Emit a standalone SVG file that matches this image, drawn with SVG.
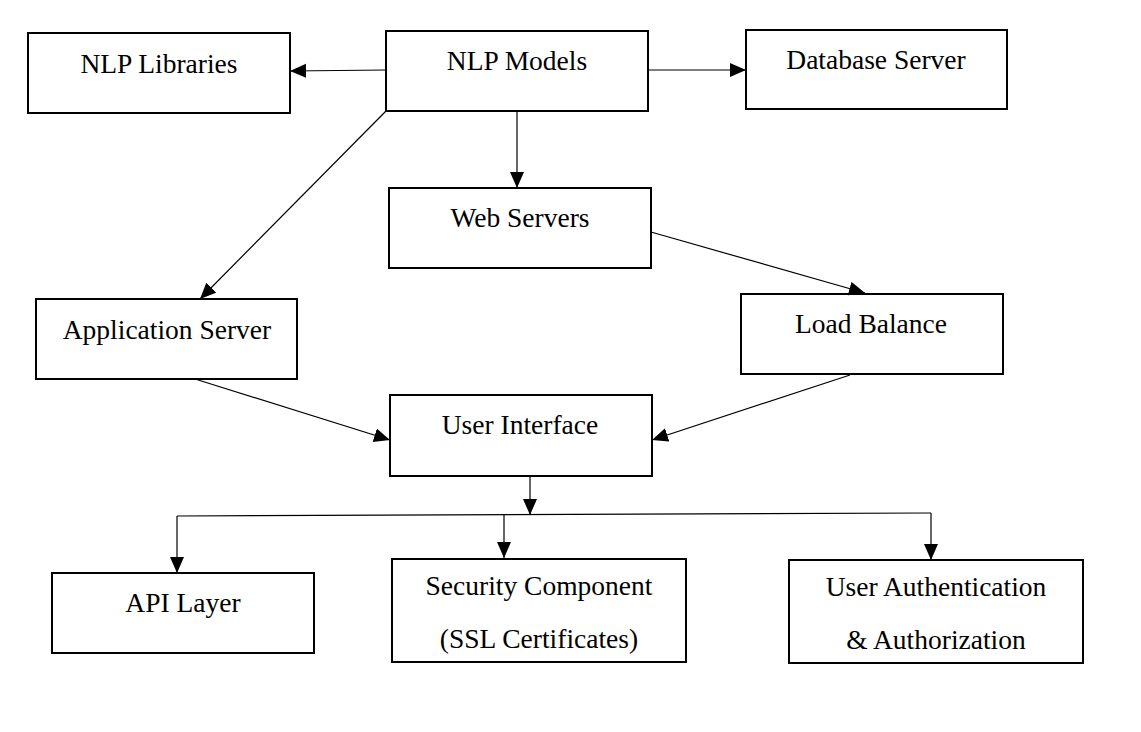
<svg xmlns="http://www.w3.org/2000/svg" width="1141" height="732" viewBox="0 0 1141 732">
<style>
.box{fill:#fff;stroke:#000;stroke-width:2}
.lbl{font-family:"Liberation Serif","Times New Roman",serif;font-size:27.5px;fill:#000;text-anchor:middle}
.con{fill:none;stroke:#000;stroke-width:1.2}
.arr{marker-end:url(#ah)}
</style>
<defs>
<marker id="ah" markerUnits="userSpaceOnUse" markerWidth="17" markerHeight="15" refX="16" refY="7" orient="auto">
<path d="M0,0 L16,7 L0,14 Z" fill="#000"/>
</marker>
</defs>
<rect width="1141" height="732" fill="#fff"/>
<g id="nlp-libraries"><rect class="box" x="28" y="33" width="262" height="80"/><text class="lbl" x="159" y="73">NLP Libraries</text></g>
<g id="nlp-models"><rect class="box" x="386" y="31" width="262" height="80"/><text class="lbl" x="517" y="70">NLP Models</text></g>
<g id="database-server"><rect class="box" x="746" y="30" width="261" height="79"/><text class="lbl" x="876" y="69">Database Server</text></g>
<g id="web-servers"><rect class="box" x="389" y="188" width="262" height="80"/><text class="lbl" x="520" y="227">Web Servers</text></g>
<g id="application-server"><rect class="box" x="36" y="299" width="261" height="80"/><text class="lbl" x="167" y="339">Application Server</text></g>
<g id="load-balance"><rect class="box" x="741" y="294" width="262" height="80"/><text class="lbl" x="871" y="333">Load Balance</text></g>
<g id="user-interface"><rect class="box" x="390" y="395" width="262" height="81"/><text class="lbl" x="520" y="434">User Interface</text></g>
<g id="api-layer"><rect class="box" x="52" y="573" width="262" height="80"/><text class="lbl" x="183" y="612">API Layer</text></g>
<g id="security-component"><rect class="box" x="392" y="559" width="294" height="103"/><text class="lbl" x="539" y="595">Security Component</text><text class="lbl" x="539" y="648">(SSL Certificates)</text></g>
<g id="user-auth"><rect class="box" x="789" y="560" width="294" height="103"/><text class="lbl" x="936" y="596">User Authentication</text><text class="lbl" x="936" y="649">&amp; Authorization</text></g>
<g id="connectors">
<line class="con arr" x1="386" y1="70" x2="290" y2="71"/>
<line class="con arr" x1="648" y1="70" x2="746" y2="70"/>
<line class="con arr" x1="517" y1="111" x2="517" y2="188"/>
<line class="con arr" x1="386" y1="111" x2="200" y2="299"/>
<line class="con arr" x1="651" y1="232" x2="865" y2="293"/>
<line class="con arr" x1="195" y1="379" x2="390" y2="440"/>
<line class="con arr" x1="850" y1="375" x2="652" y2="440"/>
<line class="con arr" x1="530" y1="476" x2="530" y2="515"/>
<polyline class="con" points="177,516 931,513"/>
<line class="con arr" x1="177" y1="516" x2="177" y2="573"/>
<line class="con arr" x1="504" y1="515" x2="504" y2="558"/>
<line class="con arr" x1="931" y1="513" x2="931" y2="560"/>
</g>
</svg>
